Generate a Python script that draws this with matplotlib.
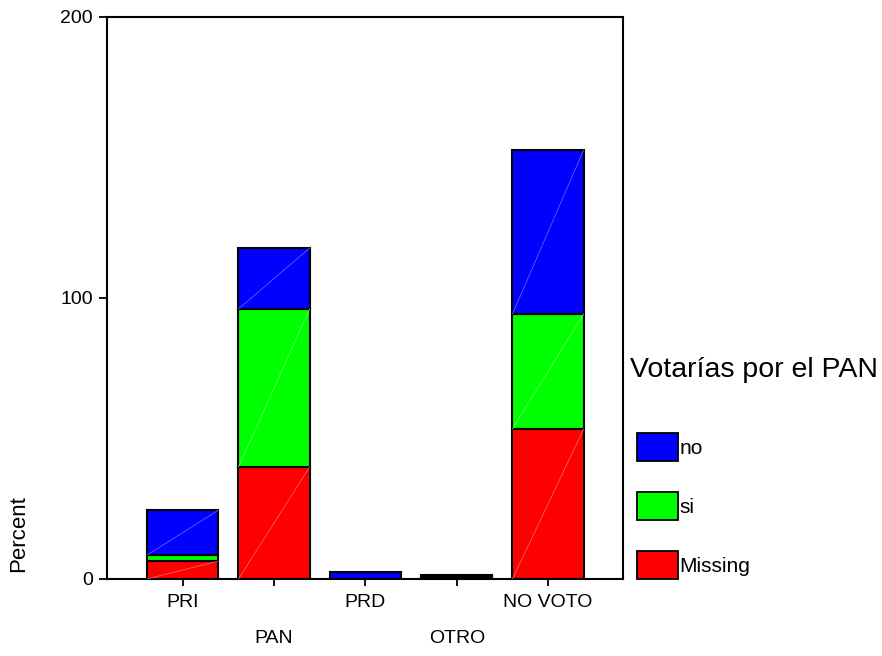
import numpy as np
import matplotlib.pyplot as plt
from matplotlib.patches import Patch

plt.rcParams['font.family'] = ['Liberation Sans', 'DejaVu Sans']

# Data (percent, stacked)
parties = ['PRI', 'PAN', 'PRD', 'OTRO', 'NO VOTO']
missing = [6.4, 39.9, 0.0, 0.6, 53.4]
si = [2.1, 56.2, 0.0, 0.3, 40.9]
no = [16.0, 21.7, 2.6, 0.6, 58.4]
series_names = ['Missing', 'si', 'no']
series_colors = ['#ff0000', '#00ff00', '#0000ff']
diag_colors = ['#ff7070', '#70ff70', '#7070ff']
yticks = [0, 100, 200]

fig = plt.figure(figsize=(8.82, 6.56), dpi=100)
ax = fig.add_axes([0.1213, 0.1174, 0.5850, 0.8567])

x = np.arange(len(parties))
w = 0.78
bottom = np.zeros(len(parties))
for vals, col, dcol in zip([missing, si, no], series_colors, diag_colors):
    vals = np.array(vals)
    ax.bar(x, vals, w, bottom=bottom, color=col, edgecolor='black',
           linewidth=1.5, zorder=2)
    # faint diagonal across each segment
    for xi, b, v in zip(x, bottom, vals):
        if v > 3:
            ax.plot([xi - w/2, xi + w/2], [b, b + v], color=dcol,
                    linewidth=0.5, zorder=3)
    bottom += vals

ax.set_xlim(-0.83, 4.82)
ax.set_ylim(0, 200)
ax.set_yticks(yticks)
ax.set_yticklabels([str(t) for t in yticks], fontsize=14)
ax.set_xticks(x)
ax.set_xticklabels([])
xtr = ax.get_xaxis_transform()
for i, p in enumerate(parties):
    off = -0.042 if i % 2 == 0 else -0.106
    ax.text(i, off, p, transform=xtr, ha='center', va='center', fontsize=14)
ax.tick_params(axis='y', direction='out', length=6, width=1.3, pad=4)
ax.tick_params(axis='x', direction='out', length=5, width=1.3)
for s in ax.spines.values():
    s.set_linewidth(1.5)

fig.text(0.021, 0.187, 'Percent', rotation=90, ha='center', va='center',
         fontsize=16)

# legend
fig.text(0.714, 0.436, 'Votarías por el PAN', ha='left', va='center',
         fontsize=20.5)
handles = [Patch(facecolor=c, edgecolor='black', linewidth=1.3)
           for c in series_colors[::-1]]
fig.legend(handles, series_names[::-1], loc='upper left',
           bbox_to_anchor=(0.722, 0.340), frameon=False, fontsize=15,
           handlelength=2.0, handleheight=1.66, handletextpad=0.05,
           labelspacing=1.52, borderaxespad=0, borderpad=0)

plt.savefig('out.png', dpi=100)
